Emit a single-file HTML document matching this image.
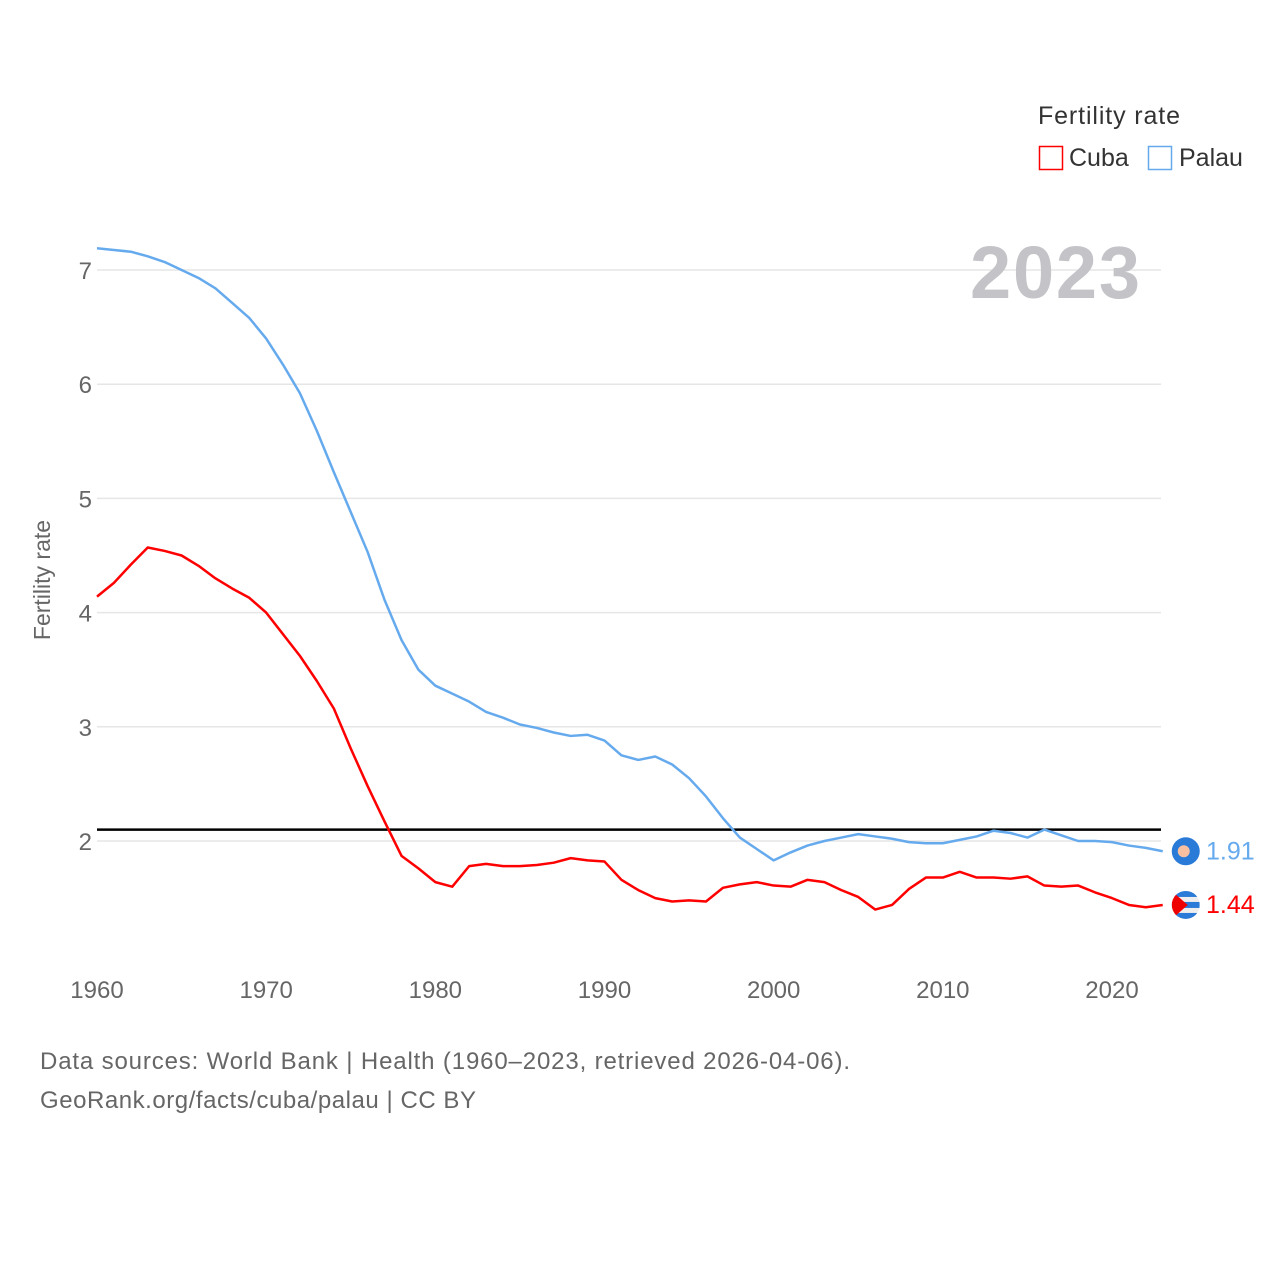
<!DOCTYPE html>
<html><head><meta charset="utf-8"><style>
body{margin:0;background:#fff;}
svg{display:block;font-family:"Liberation Sans",sans-serif;}
</style></head><body>
<svg id="chart" width="1280" height="1280" viewBox="0 0 1280 1280">
<defs><clipPath id="cclip"><circle id="cclipc" cx="0" cy="0" r="14"/></clipPath></defs>
<g id="grid"></g>
<g id="ylabels"></g>
<g id="xlabels"></g>
<text x="1140" y="298" text-anchor="end" font-size="74" font-weight="bold" fill="#c4c4c8" textLength="170">2023</text>
<text transform="translate(50,580) rotate(-90)" text-anchor="middle" font-size="23" fill="#666">Fertility rate</text>
<g id="series"></g>
<g>
<text x="1038" y="124" font-size="25" fill="#333" textLength="142">Fertility rate</text>
<g><rect x="1039.5" y="146.5" width="23" height="23" fill="none" stroke="#ff0000" stroke-width="1.5"/><text x="1069" y="166" font-size="25" fill="#333">Cuba</text></g>
<g><rect x="1148.5" y="146.5" width="23" height="23" fill="none" stroke="#66aaee" stroke-width="1.5"/><text x="1179" y="166" font-size="25" fill="#333">Palau</text></g>
</g>
<text x="40" y="1069" font-size="24" fill="#666" textLength="810">Data sources: World Bank | Health (1960–2023, retrieved 2026-04-06).</text>
<text x="40" y="1108" font-size="24" fill="#666" textLength="436">GeoRank.org/facts/cuba/palau | CC BY</text>
</svg>
<script>
const years=[];for(let y=1960;y<=2023;y++)years.push(y);
const palau=[7.19,7.175,7.16,7.12,7.07,7.0,6.93,6.84,6.71,6.58,6.40,6.17,5.92,5.59,5.23,4.88,4.53,4.11,3.76,3.50,3.36,3.29,3.22,3.13,3.08,3.02,2.99,2.95,2.92,2.93,2.88,2.75,2.71,2.74,2.67,2.55,2.39,2.20,2.03,1.93,1.83,1.90,1.96,2.00,2.03,2.06,2.04,2.02,1.99,1.98,1.98,2.01,2.04,2.09,2.07,2.03,2.10,2.05,2.00,2.00,1.99,1.96,1.94,1.91];
const cuba=[4.14,4.26,4.42,4.57,4.54,4.50,4.41,4.30,4.21,4.13,4.00,3.81,3.62,3.40,3.16,2.81,2.48,2.17,1.87,1.76,1.64,1.60,1.78,1.80,1.78,1.78,1.79,1.81,1.85,1.83,1.82,1.66,1.57,1.50,1.47,1.48,1.47,1.59,1.62,1.64,1.61,1.60,1.66,1.64,1.57,1.51,1.40,1.44,1.58,1.68,1.68,1.73,1.68,1.68,1.67,1.69,1.61,1.60,1.61,1.55,1.50,1.44,1.42,1.44];
const yTicks=[2,3,4,5,6,7];
const xTicks=[1960,1970,1980,1990,2000,2010,2020];
const replacement=2.1;
const NS="http://www.w3.org/2000/svg";
const X=y=>97+(y-1960)*(1015/60);
const Y=v=>841-(v-2)*114.2;
function mk(t,a,p){const e=document.createElementNS(NS,t);for(const k in a)e.setAttribute(k,a[k]);p.appendChild(e);return e;}
const grid=document.getElementById('grid'),yl=document.getElementById('ylabels'),xl=document.getElementById('xlabels'),ser=document.getElementById('series');
yTicks.forEach(v=>{
 const l=mk('line',{x1:97,x2:1161,y1:Y(v),y2:Y(v),stroke:'#e6e6e6','stroke-width':1.5},grid);
 
 
 const t=mk('text',{x:92,y:Y(v)+9,'text-anchor':'end','font-size':24,fill:'#666'},yl);t.textContent=v;
 
 
});
xTicks.forEach(v=>{
 const t=mk('text',{x:X(v),y:998,'text-anchor':'middle','font-size':24,fill:'#666'},xl);t.textContent=v;
 
 
});
const rl=mk('line',{x1:97,x2:1161,y1:Y(replacement),y2:Y(replacement),stroke:'#000','stroke-width':2.5},ser);


function line(data,color,name){
 const p=mk('polyline',{points:data.map((v,i)=>X(years[i])+','+Y(v)).join(' '),fill:'none',stroke:color,'stroke-width':2.5,'stroke-linejoin':'round'},ser);
 
 
}
line(palau,'#66aaee','palau-line');
line(cuba,'#ff0000','cuba-line');
const lx=X(2023)+23;
const pv=palau[palau.length-1],cv=cuba[cuba.length-1];
const pm=mk('g',{},ser);


mk('circle',{cx:lx,cy:Y(pv),r:14,fill:'#2a7ad8'},pm);mk('circle',{cx:lx-2,cy:Y(pv),r:6,fill:'#f8c0a0'},pm);
const cy=Y(cv);
const cc=document.getElementById('cclipc');cc.setAttribute('cx',lx);cc.setAttribute('cy',cy);
const cm=mk('g',{'clip-path':'url(#cclip)'},ser);


mk('rect',{x:lx-14,y:cy-14,width:28,height:28,fill:'#eee'},cm);
mk('rect',{x:lx-14,y:cy-14,width:28,height:6,fill:'#2a7ad8'},cm);
mk('rect',{x:lx-14,y:cy-3,width:28,height:6,fill:'#2a7ad8'},cm);
mk('rect',{x:lx-14,y:cy+8,width:28,height:6,fill:'#2a7ad8'},cm);
mk('path',{d:`M${lx-14},${cy-14} L${lx+2},${cy} L${lx-14},${cy+14}Z`,fill:'#e00'},cm);
const tp=mk('text',{x:1206,y:Y(pv)+8,'font-size':25,fill:'#66aaee'},ser);tp.textContent=pv.toFixed(2);


const tc=mk('text',{x:1206,y:cy+8,'font-size':25,fill:'#ff0000'},ser);tc.textContent=cv.toFixed(2);


</script>
</body></html>
